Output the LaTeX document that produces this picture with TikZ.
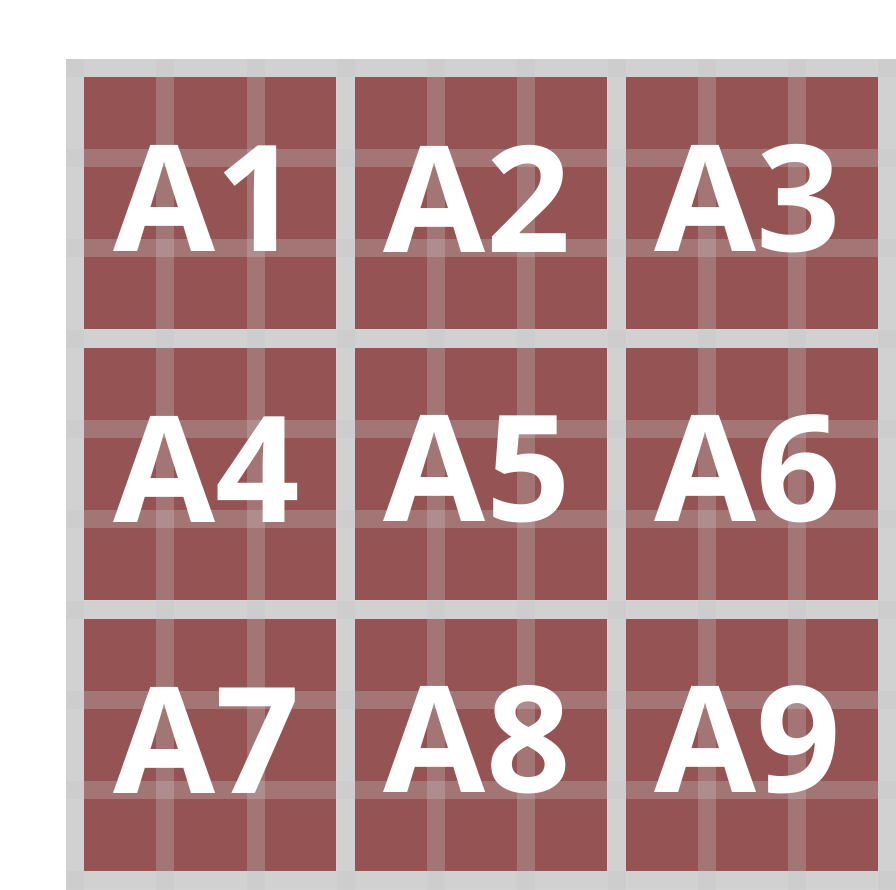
\documentclass[tikz,border=0pt]{standalone}
\usepackage{fontspec}
\setmainfont{Open Sans}
\definecolor{bggray}{RGB}{214,214,214}
\definecolor{cellred}{RGB}{149,83,83}
\definecolor{linegray}{RGB}{198,198,198}
\tikzset{
  cell/.style={fill=cellred, draw=none},
  gridline/.style={draw=linegray, line width=18pt, draw opacity=0.3},
  lbl/.style={text=white, font=\fontsize{148}{148}\bfseries\selectfont, inner sep=0pt, anchor=center}
}
\begin{document}
\begin{tikzpicture}[x=1pt,y=-1pt]
\useasboundingbox (0,0) rectangle (896,890);
\fill[white] (0,0) rectangle (896,890);
\fill[bggray] (66,59) rectangle (896,890);
\foreach \i in {0,1,2}{
  \foreach \j in {0,1,2}{
    \fill[cell] ({84+270.75*\i},{77+270.75*\j}) rectangle ++(252,252);
  }
}
\foreach \k in {0,...,9}{
  \draw[gridline] ({75+90.25*\k},59) -- ({75+90.25*\k},890);
  \draw[gridline] (66,{68+90.25*\k}) -- (896,{68+90.25*\k});
}
\node[lbl] (a1) at (206.5,198.5) {A1};
\node[lbl] (a2) at (477.25,198.5) {A2};
\node[lbl] (a3) at (748,198.5) {A3};
\node[lbl] (a4) at (206.5,469.25) {A4};
\node[lbl] (a5) at (477.25,469.25) {A5};
\node[lbl] (a6) at (748,469.25) {A6};
\node[lbl] (a7) at (206.5,740) {A7};
\node[lbl] (a8) at (477.25,740) {A8};
\node[lbl] (a9) at (748,740) {A9};
\end{tikzpicture}
\end{document}
